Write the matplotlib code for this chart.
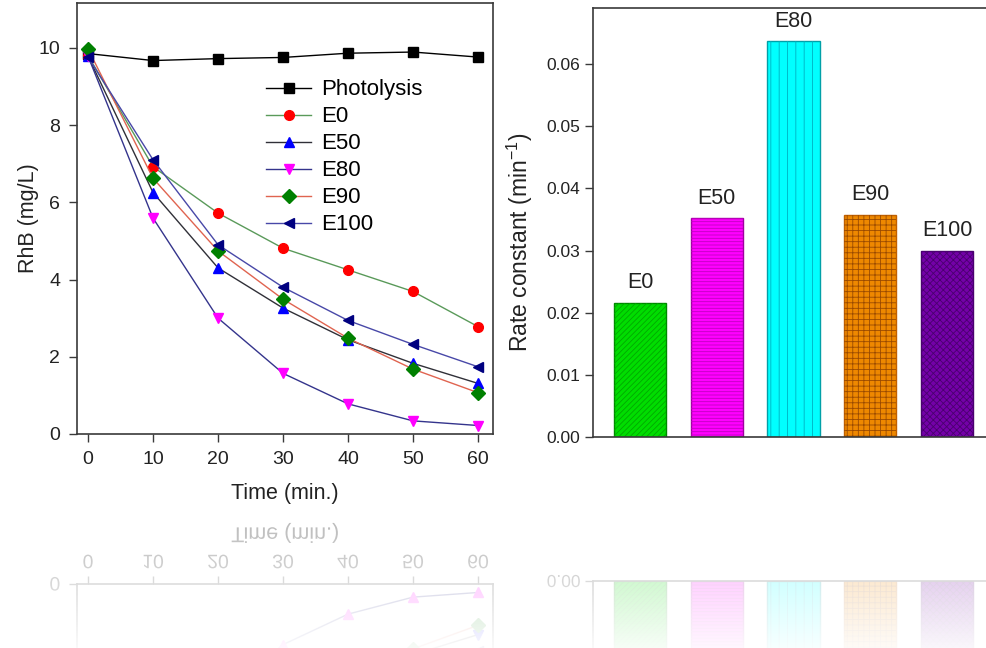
import numpy as np
import matplotlib
matplotlib.use('Agg')
import matplotlib.pyplot as plt
from matplotlib.ticker import FormatStrFormatter
from matplotlib.patheffects import AbstractPathEffect
from matplotlib.transforms import Affine2D

plt.rcParams['font.family'] = ['Liberation Sans', 'DejaVu Sans']
plt.rcParams['mathtext.default'] = 'regular'
plt.rcParams['hatch.linewidth'] = 0.6

# RhB concentration vs time
time_min = [0, 10, 20, 30, 40, 50, 60]
photolysis = [9.85, 9.67, 9.72, 9.75, 9.86, 9.89, 9.76]
e0 = [9.80, 6.92, 5.72, 4.81, 4.25, 3.69, 2.78]
e50 = [9.78, 6.25, 4.30, 3.26, 2.44, 1.83, 1.31]
e80 = [9.78, 5.59, 3.00, 1.57, 0.78, 0.34, 0.22]
e90 = [9.97, 6.62, 4.74, 3.49, 2.48, 1.68, 1.07]
e100 = [9.76, 7.10, 4.90, 3.80, 2.94, 2.32, 1.74]

# rate constants
samples = ['E0', 'E50', 'E80', 'E90', 'E100']
rate_const = [0.0216, 0.0352, 0.0637, 0.0358, 0.0300]

series = [
    ('Photolysis', photolysis, 's', 'black', 'black'),
    ('E0', e0, 'o', '#ff0000', '#5a9a5a'),
    ('E50', e50, '^', '#0000ff', '#303038'),
    ('E80', e80, 'v', '#ff00ff', '#34348c'),
    ('E90', e90, 'D', '#008000', '#e06450'),
    ('E100', e100, '<', '#000080', '#4848a8'),
]
bar_face = ['#00dd00', '#ff00ff', '#00ffff', '#ee8800', '#7400a8']
bar_edge = ['#008800', '#a000a0', '#00a0a8', '#c06000', '#4a0070']
bar_hatch = ['//////', '-----', '||', '+++', 'xxxxx']
hatch_col = ['#00a800', '#c000c0', '#00b0c0', '#9a4a00', '#4a0070']

flip_marker = {'^': 'v', 'v': '^'}
W, H = 987, 648
MIRROR_Y = 509
SPINE = '#3a3a3a'
TXT = '#222222'


class FlipV(AbstractPathEffect):
    # draws text upside down (mirror image) about its own centre
    def draw_path(self, renderer, gc, tpath, affine, rgbFace=None):
        ext = tpath.get_extents(affine)
        yc = (ext.y0 + ext.y1) / 2
        flip = Affine2D().translate(0, -yc).scale(1, -1).translate(0, yc)
        renderer.draw_path(gc, tpath, affine + flip, rgbFace)


def px_box(left, top, right, bottom):
    return [left / W, 1 - bottom / H, (right - left) / W, (bottom - top) / H]


def style_spines(ax):
    for s in ax.spines.values():
        s.set_color(SPINE)
        s.set_linewidth(1.2)


def draw_kinetics(ax, mirror=False):
    for name, y, mk, mfc, lc in series:
        if mirror:
            mk = flip_marker.get(mk, mk)
        ax.plot(time_min, y, color=lc, lw=1.0, marker=mk, ms=7,
                mfc=mfc, mec=mfc, label=name)
    ax.set_xlim(-1.7, 62.3)
    ax.set_xticks(range(0, 61, 10))
    style_spines(ax)
    ax.tick_params(direction='out', length=6, width=1.0, colors=SPINE,
                   labelcolor=TXT, labelsize=14, pad=6)
    if mirror:
        ax.set_ylim(11.16, 0)
        ax.set_yticks([0])
        ax.xaxis.tick_top()
        ax.xaxis.set_label_position('top')
        ax.tick_params(axis='x', top=True, bottom=False, labeltop=True,
                       labelbottom=False, pad=2.5)
        ax.set_xlabel('Time (min.)', fontsize=15.5, labelpad=12, color=TXT)
    else:
        ax.set_ylim(0, 11.16)
        ax.set_yticks(range(0, 11, 2))
        ax.set_xlabel('Time (min.)', fontsize=15.5, labelpad=11, color=TXT)
        ax.set_ylabel('RhB (mg/L)', fontsize=15.5, labelpad=0, color=TXT)
        ax.legend(loc='upper left', bbox_to_anchor=(0.455, 0.823), frameon=False,
                  fontsize=16, handlelength=2.0, handletextpad=0.45,
                  labelspacing=0.27, borderpad=0, borderaxespad=0)


def draw_rates(ax, mirror=False):
    x = np.arange(len(samples))
    bars = ax.bar(x, rate_const, width=0.68, color=bar_face, edgecolor=bar_edge, linewidth=1.0)
    hb = ax.bar(x, rate_const, width=0.68, fill=False, edgecolor=hatch_col, linewidth=0)
    for b, h in zip(hb, bar_hatch):
        b.set_hatch(h)
    ax.set_xlim(-0.612, 4.82)
    ax.yaxis.set_major_formatter(FormatStrFormatter('%.2f'))
    ax.set_xticks([])
    style_spines(ax)
    ax.tick_params(direction='out', length=6, width=1.0, colors=SPINE,
                   labelcolor=TXT, labelsize=12.5, pad=3)
    if mirror:
        ax.set_ylim(0.069, 0)
        ax.set_yticks([0])
    else:
        ax.set_ylim(0, 0.069)
        ax.set_yticks(np.arange(0, 0.061, 0.01))
        ax.bar_label(bars, labels=samples, padding=7, fontsize=15.5, color=TXT)
        ax.set_ylabel('Rate constant (min$^{-1}$)', fontsize=16.5, color=TXT)
        ax.yaxis.set_label_coords(-0.139, 0.455)


fig = plt.figure(figsize=(W / 100, H / 100), dpi=100)

ax1 = fig.add_axes(px_box(77, 3, 493, 434))
draw_kinetics(ax1)
ax2 = fig.add_axes(px_box(593, 8.3, 1010, 437))
draw_rates(ax2)

# faded mirror image below the figure
m1 = fig.add_axes(px_box(77, 2 * MIRROR_Y - 434, 493, 2 * MIRROR_Y - 3))
draw_kinetics(m1, mirror=True)
m2 = fig.add_axes(px_box(593, 2 * MIRROR_Y - 437, 1010, 2 * MIRROR_Y - 8.3))
draw_rates(m2, mirror=True)
for m in (m1, m2):
    for t in m.get_xticklabels() + m.get_yticklabels() + [m.xaxis.label]:
        t.set_path_effects([FlipV()])

ov = fig.add_axes([0, 0, 1, 1 - MIRROR_Y / H], zorder=10)
ov.axis('off')
fade = np.ones((200, 1, 4))
fade[:, 0, 3] = np.linspace(0.67, 0.97, 200)
ov.imshow(fade, aspect='auto', extent=[0, 1, 0, 1], interpolation='bilinear')

fig.savefig('out.png', dpi=100)
